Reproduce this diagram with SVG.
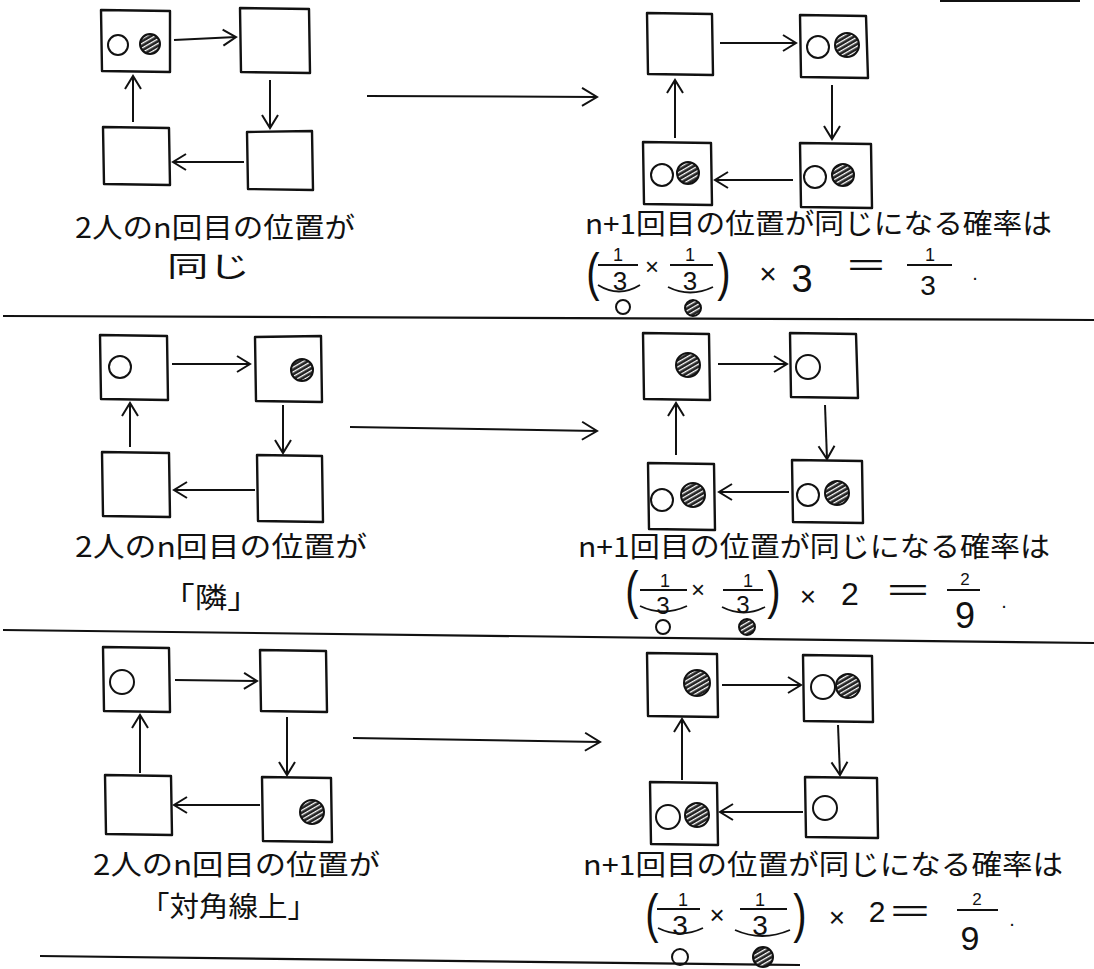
<svg xmlns="http://www.w3.org/2000/svg" width="1094" height="969" viewBox="0 0 1094 969">
<style>
.box{fill:none;stroke:#111;stroke-width:2.4;stroke-linejoin:round}
.arr{fill:none;stroke:#111;stroke-width:2;marker-end:url(#ah)}
.big{fill:none;stroke:#111;stroke-width:2;marker-end:url(#ahL)}
.o{fill:none;stroke:#111;stroke-width:2}
.h{fill:url(#hatch);stroke:#111;stroke-width:2}
.t{font-family:"Noto Sans CJK JP",sans-serif;font-size:28px;fill:#111}
.m{font-family:"Liberation Sans",sans-serif;fill:#111;text-anchor:middle}
.fl{stroke:#111;stroke-width:2}
.br{fill:none;stroke:#111;stroke-width:1.8}
.div{stroke:#111;stroke-width:2.2}
</style>
<defs>
<marker id="ah" markerUnits="userSpaceOnUse" markerWidth="18" markerHeight="20" refX="15" refY="10" orient="auto">
<path d="M2,2 L15,10 L2,18" fill="none" stroke="#111" stroke-width="2"/>
</marker>
<marker id="ahL" markerUnits="userSpaceOnUse" markerWidth="20" markerHeight="22" refX="17" refY="11" orient="auto">
<path d="M2,2 L17,11 L2,20" fill="none" stroke="#111" stroke-width="2"/>
</marker>
<pattern id="hatch" patternUnits="userSpaceOnUse" width="4" height="4" patternTransform="rotate(60)">
<rect width="4" height="4" fill="#222"/>
<rect width="1.3" height="4" fill="#fff"/>
</pattern>
</defs>
<rect width="1094" height="969" fill="#fff"/>

<g id="dividers">
<line class="div" x1="940" y1="1" x2="1080" y2="1"/>
<line class="div" x1="3" y1="316" x2="1094" y2="320"/>
<line class="div" x1="3" y1="630" x2="1094" y2="643"/>
<line class="div" x1="40" y1="956" x2="800" y2="965"/>
</g>

<!-- Panel 1 left -->
<g id="p1L-tl"><polygon class="box" points="101,10 170,11 170,72 102,71"/><circle class="o" cx="118" cy="45" r="10"/><circle class="h" cx="150" cy="44" r="10"/></g>
<g id="p1L-tr"><polygon class="box" points="240,8 309,9 310,73 241,72"/></g>
<g id="p1L-bl"><polygon class="box" points="103,127 169,128 170,185 104,184"/></g>
<g id="p1L-br"><polygon class="box" points="247,132 312,131 313,190 248,189"/></g>
<g id="p1L-text">
<text class="t" x="75" y="238" textLength="280" lengthAdjust="spacingAndGlyphs">2人のn回目の位置が</text>
<text class="t" x="167" y="277" textLength="83" lengthAdjust="spacingAndGlyphs">同じ</text>
</g>

<!-- Panel 1 right -->
<g id="p1R-tl"><polygon class="box" points="647,13 712,14 713,75 648,74"/></g>
<g id="p1R-tr"><polygon class="box" points="800,15 866,16 868,78 801,77"/><circle class="o" cx="818" cy="47" r="11"/><circle class="h" cx="847" cy="45" r="12"/></g>
<g id="p1R-bl"><polygon class="box" points="643,142 711,143 712,205 644,204"/><circle class="o" cx="662" cy="175" r="11"/><circle class="h" cx="688" cy="173" r="11"/></g>
<g id="p1R-br"><polygon class="box" points="800,143 871,144 872,208 801,207"/><circle class="o" cx="815" cy="177" r="11"/><circle class="h" cx="843" cy="175" r="11"/></g>
<g id="p1R-text">
<text class="t" x="585" y="234" textLength="467" lengthAdjust="spacingAndGlyphs">n+1回目の位置が同じになる確率は</text>
<text class="m" transform="translate(593,290) scale(1,1.3)" font-size="40">(</text>
<text class="m" x="618" y="261" font-size="18">1</text>
<line class="fl" x1="598" y1="265" x2="638" y2="265"/>
<text class="m" x="620" y="290" font-size="26">3</text>
<path class="br" d="M598,285 Q619,298 640,285"/>
<circle class="o" cx="623" cy="307" r="7"/>
<text class="m" x="652" y="275" font-size="24">×</text>
<text class="m" x="690" y="261" font-size="18">1</text>
<line class="fl" x1="670" y1="265" x2="713" y2="265"/>
<text class="m" x="690" y="290" font-size="26">3</text>
<path class="br" d="M668,287 Q690,298 713,287"/>
<circle class="h" cx="693" cy="308" r="8"/>
<text class="m" transform="translate(724,290) scale(1,1.3)" font-size="40">)</text>
<text class="m" x="768" y="284" font-size="30">×</text>
<text class="m" x="802" y="292" font-size="38">3</text>
<text class="m" x="866" y="275" font-size="30" textLength="38" lengthAdjust="spacingAndGlyphs">=</text>
<text class="m" x="930" y="261" font-size="18">1</text>
<line class="fl" x1="907" y1="265" x2="952" y2="265"/>
<text class="m" x="928" y="295" font-size="28">3</text>
<text class="m" x="975" y="280" font-size="20">.</text>
</g>

<!-- Panel 2 left -->
<g id="p2L-tl"><polygon class="box" points="100,335 167,336 168,400 101,399"/><circle class="o" cx="120" cy="367" r="11"/></g>
<g id="p2L-tr"><polygon class="box" points="255,337 321,336 322,402 256,401"/><circle class="h" cx="302" cy="370" r="11"/></g>
<g id="p2L-bl"><polygon class="box" points="102,452 169,453 170,517 103,516"/></g>
<g id="p2L-br"><polygon class="box" points="257,455 322,456 323,522 258,521"/></g>
<g id="p2L-text">
<text class="t" x="75" y="557" textLength="292" lengthAdjust="spacingAndGlyphs">2人のn回目の位置が</text>
<text class="t" x="162" y="608" font-size="38" textLength="98" lengthAdjust="spacingAndGlyphs">「隣」</text>
</g>

<!-- Panel 2 right -->
<g id="p2R-tl"><polygon class="box" points="643,333 709,334 710,400 644,399"/><circle class="h" cx="688" cy="365" r="12"/></g>
<g id="p2R-tr"><polygon class="box" points="790,333 856,334 858,398 791,397"/><circle class="o" cx="808" cy="367" r="12"/></g>
<g id="p2R-bl"><polygon class="box" points="648,463 714,464 715,530 649,529"/><circle class="o" cx="662" cy="500" r="11"/><circle class="h" cx="693" cy="495" r="12"/></g>
<g id="p2R-br"><polygon class="box" points="792,460 862,461 863,523 793,522"/><circle class="o" cx="808" cy="495" r="11"/><circle class="h" cx="837" cy="493" r="12"/></g>
<g id="p2R-text">
<text class="t" x="578" y="557" textLength="472" lengthAdjust="spacingAndGlyphs">n+1回目の位置が同じになる確率は</text>
<text class="m" transform="translate(632,608) scale(1,1.3)" font-size="40">(</text>
<text class="m" x="665" y="587" font-size="18">1</text>
<line class="fl" x1="640" y1="590" x2="687" y2="590"/>
<text class="m" x="663" y="614" font-size="24">3</text>
<path class="br" d="M640,606 Q663,617 687,606"/>
<circle class="o" cx="663" cy="627" r="7"/>
<text class="m" x="698" y="598" font-size="24">×</text>
<text class="m" x="748" y="587" font-size="18">1</text>
<line class="fl" x1="723" y1="590" x2="763" y2="590"/>
<text class="m" x="743" y="613" font-size="24">3</text>
<path class="br" d="M722,607 Q744,618 765,607"/>
<circle class="h" cx="747" cy="627" r="8"/>
<text class="m" transform="translate(774,608) scale(1,1.3)" font-size="40">)</text>
<text class="m" x="808" y="606" font-size="28">×</text>
<text class="m" x="850" y="605" font-size="32">2</text>
<text class="m" x="908" y="600" font-size="30" textLength="43" lengthAdjust="spacingAndGlyphs">=</text>
<text class="m" x="965" y="585" font-size="17">2</text>
<line class="fl" x1="947" y1="590" x2="980" y2="590"/>
<text class="m" x="965" y="628" font-size="36">9</text>
<text class="m" x="1004" y="608" font-size="20">.</text>
</g>

<!-- Panel 3 left -->
<g id="p3L-tl"><polygon class="box" points="103,647 169,648 170,712 104,711"/><circle class="o" cx="122" cy="682" r="12"/></g>
<g id="p3L-tr"><polygon class="box" points="260,650 326,651 327,712 261,711"/></g>
<g id="p3L-bl"><polygon class="box" points="105,775 171,776 172,835 106,834"/></g>
<g id="p3L-br"><polygon class="box" points="262,777 331,778 332,842 263,841"/><circle class="h" cx="312" cy="812" r="12"/></g>
<g id="p3L-text">
<text class="t" x="93" y="875" textLength="287" lengthAdjust="spacingAndGlyphs">2人のn回目の位置が</text>
<text class="t" x="140" y="917" font-size="32" textLength="177" lengthAdjust="spacingAndGlyphs">「対角線上」</text>
</g>

<!-- Panel 3 right -->
<g id="p3R-tl"><polygon class="box" points="647,653 717,654 718,717 648,716"/><circle class="h" cx="697" cy="683" r="13"/></g>
<g id="p3R-tr"><polygon class="box" points="803,655 872,656 873,722 804,721"/><circle class="o" cx="823" cy="687" r="12"/><circle class="h" cx="848" cy="686" r="12"/></g>
<g id="p3R-bl"><polygon class="box" points="650,782 717,783 718,845 651,844"/><circle class="o" cx="668" cy="817" r="12"/><circle class="h" cx="697" cy="815" r="12"/></g>
<g id="p3R-br"><polygon class="box" points="805,777 877,778 878,838 806,837"/><circle class="o" cx="825" cy="808" r="12"/></g>
<g id="p3R-text">
<text class="t" x="583" y="875" textLength="480" lengthAdjust="spacingAndGlyphs">n+1回目の位置が同じになる確率は</text>
<text class="m" transform="translate(652,932) scale(1,1.35)" font-size="40">(</text>
<text class="m" x="683" y="906" font-size="18">1</text>
<line class="fl" x1="657" y1="909" x2="700" y2="909"/>
<text class="m" x="680" y="935" font-size="28">3</text>
<path class="br" d="M658,928 Q680,939 703,928"/>
<circle class="o" cx="680" cy="957" r="8"/>
<text class="m" x="717" y="924" font-size="26">×</text>
<text class="m" x="760" y="906" font-size="18">1</text>
<line class="fl" x1="740" y1="909" x2="787" y2="909"/>
<text class="m" x="760" y="935" font-size="28">3</text>
<path class="br" d="M735,930 Q762,942 790,930"/>
<circle class="h" cx="763" cy="957" r="10"/>
<text class="m" transform="translate(800,932) scale(1,1.35)" font-size="40">)</text>
<text class="m" x="837" y="927" font-size="28">×</text>
<text class="m" x="877" y="922" font-size="30">2</text>
<text class="m" x="910" y="921" font-size="30" textLength="40" lengthAdjust="spacingAndGlyphs">=</text>
<text class="m" x="977" y="905" font-size="17">2</text>
<line class="fl" x1="957" y1="910" x2="998" y2="910"/>
<text class="m" x="970" y="950" font-size="34">9</text>
<text class="m" x="1012" y="926" font-size="20">.</text>
</g>

<g id="connectors">
<line class="arr" x1="174" y1="40" x2="236" y2="37"/>
<line class="arr" x1="270" y1="80" x2="270" y2="128"/>
<line class="arr" x1="244" y1="162" x2="173" y2="162"/>
<line class="arr" x1="133" y1="122" x2="133" y2="76"/>
<line class="big" x1="367" y1="96" x2="597" y2="97"/>
<line class="arr" x1="720" y1="43" x2="796" y2="43"/>
<line class="arr" x1="832" y1="85" x2="832" y2="139"/>
<line class="arr" x1="793" y1="180" x2="715" y2="180"/>
<line class="arr" x1="675" y1="138" x2="675" y2="80"/>

<line class="arr" x1="172" y1="364" x2="250" y2="364"/>
<line class="arr" x1="283" y1="405" x2="283" y2="453"/>
<line class="arr" x1="255" y1="490" x2="174" y2="490"/>
<line class="arr" x1="130" y1="447" x2="130" y2="403"/>
<line class="big" x1="350" y1="427" x2="597" y2="431"/>
<line class="arr" x1="718" y1="364" x2="787" y2="364"/>
<line class="arr" x1="825" y1="405" x2="827" y2="459"/>
<line class="arr" x1="789" y1="492" x2="719" y2="492"/>
<line class="arr" x1="676" y1="455" x2="676" y2="403"/>

<line class="arr" x1="175" y1="680" x2="257" y2="681"/>
<line class="arr" x1="287" y1="717" x2="287" y2="775"/>
<line class="arr" x1="260" y1="805" x2="174" y2="805"/>
<line class="arr" x1="140" y1="773" x2="140" y2="715"/>
<line class="big" x1="353" y1="738" x2="600" y2="742"/>
<line class="arr" x1="722" y1="685" x2="801" y2="685"/>
<line class="arr" x1="838" y1="725" x2="840" y2="775"/>
<line class="arr" x1="803" y1="812" x2="720" y2="812"/>
<line class="arr" x1="682" y1="780" x2="682" y2="719"/>
</g>
</svg>
